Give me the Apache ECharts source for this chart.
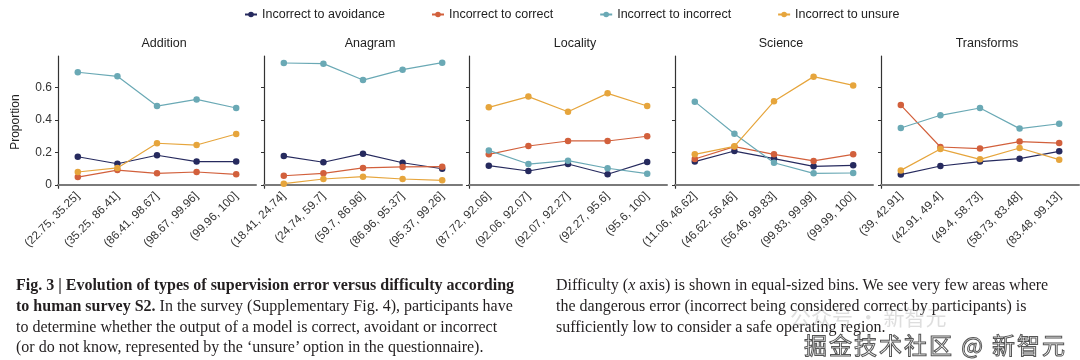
<!DOCTYPE html>
<html><head><meta charset="utf-8">
<script src="https://cdn.jsdelivr.net/npm/echarts@6/dist/echarts.min.js"></script>
<style>
html,body{margin:0;padding:0;background:#fff;}
#wrap{position:relative;width:1080px;height:360px;overflow:hidden;}
#chart{position:absolute;left:0;top:0;width:1080px;height:360px;}
.cap{position:absolute;font-family:"Liberation Serif","DejaVu Serif",serif;font-size:16px;color:#231f20;line-height:20.8px;white-space:nowrap;}
.wm1{position:absolute;left:790px;top:301px;font-family:"Noto Sans CJK SC";font-size:21px;color:rgba(160,160,160,0.35);white-space:nowrap;}
.wm2{position:absolute;left:804px;top:327px;font-family:"Noto Sans CJK SC";font-size:23px;color:#fff;-webkit-text-stroke:1px #555;white-space:nowrap;letter-spacing:2px;}
</style></head>
<body><div id="wrap"><div id="chart"></div>
<div class="cap" style="left:16px;top:275px;"><b>Fig. 3 | Evolution of types of supervision error versus difficulty according</b><br><b>to human survey S2.</b> In the survey (Supplementary Fig. 4), participants have<br>to determine whether the output of a model is correct, avoidant or incorrect<br>(or do not know, represented by the ‘unsure’ option in the questionnaire).</div>
<div class="cap" style="left:556px;top:275px;">Difficulty (<i>x</i> axis) is shown in equal-sized bins. We see very few areas where<br>the dangerous error (incorrect being considered correct by participants) is<br>sufficiently low to consider a safe operating region.</div>
<div class="wm1">公众号 · 新智元</div>
<div class="wm2">掘金技术社区 @ 新智元</div>
</div>
<script>
const panels = ["Addition", "Anagram", "Locality", "Science", "Transforms"];
const seriesNames = ["Incorrect to avoidance", "Incorrect to correct", "Incorrect to incorrect", "Incorrect to unsure"];
const colors = ["#262a5e", "#d2603c", "#6aa9b5", "#e6a53c"];
const yTicks = [0, 0.2, 0.4, 0.6];

const catAddition = ["(22.75, 35.25]", "(35.25, 86.41]", "(86.41, 98.67]", "(98.67, 99.96]", "(99.96, 100]"];
const catAnagram = ["(18.41, 24.74]", "(24.74, 59.7]", "(59.7, 86.96]", "(86.96, 95.37]", "(95.37, 99.26]"];
const catLocality = ["(87.72, 92.06]", "(92.06, 92.07]", "(92.07, 92.27]", "(92.27, 95.6]", "(95.6, 100]"];
const catScience = ["(11.06, 46.62]", "(46.62, 56.46]", "(56.46, 99.83]", "(99.83, 99.99]", "(99.99, 100]"];
const catTransforms = ["(39, 42.91]", "(42.91, 49.4]", "(49.4, 58.73]", "(58.73, 83.48]", "(83.48, 99.13]"];

// order: avoidance, correct, incorrect, unsure
const additionAvoidance = [0.174, 0.131, 0.183, 0.144, 0.144];
const additionCorrect = [0.049, 0.092, 0.072, 0.080, 0.066];
const additionIncorrect = [0.694, 0.669, 0.486, 0.527, 0.474];
const additionUnsure = [0.080, 0.105, 0.257, 0.246, 0.314];

const anagramAvoidance = [0.178, 0.140, 0.193, 0.137, 0.100];
const anagramCorrect = [0.057, 0.072, 0.105, 0.111, 0.113];
const anagramIncorrect = [0.751, 0.747, 0.646, 0.710, 0.753];
const anagramUnsure = [0.008, 0.037, 0.051, 0.037, 0.029];

const localityAvoidance = [0.119, 0.086, 0.129, 0.066, 0.142];
const localityCorrect = [0.189, 0.240, 0.271, 0.271, 0.300];
const localityIncorrect = [0.213, 0.129, 0.150, 0.103, 0.070];
const localityUnsure = [0.478, 0.544, 0.451, 0.564, 0.486];

const scienceAvoidance = [0.144, 0.209, 0.162, 0.115, 0.121];
const scienceCorrect = [0.160, 0.236, 0.189, 0.148, 0.189];
const scienceIncorrect = [0.513, 0.316, 0.137, 0.072, 0.074];
const scienceUnsure = [0.189, 0.238, 0.515, 0.667, 0.613];

const transformsAvoidance = [0.064, 0.117, 0.144, 0.162, 0.207];
const transformsCorrect = [0.492, 0.234, 0.224, 0.267, 0.258];
const transformsIncorrect = [0.351, 0.429, 0.474, 0.347, 0.377];
const transformsUnsure = [0.090, 0.221, 0.158, 0.228, 0.156];

const categories = [catAddition, catAnagram, catLocality, catScience, catTransforms];
const panelData = [
  [additionAvoidance, additionCorrect, additionIncorrect, additionUnsure],
  [anagramAvoidance, anagramCorrect, anagramIncorrect, anagramUnsure],
  [localityAvoidance, localityCorrect, localityIncorrect, localityUnsure],
  [scienceAvoidance, scienceCorrect, scienceIncorrect, scienceUnsure],
  [transformsAvoidance, transformsCorrect, transformsIncorrect, transformsUnsure]
];

const lefts = [58, 264, 469, 675, 881];
const gw = 198;
const font = "Liberation Sans, Arial, sans-serif";

const grid = [], xAxis = [], yAxis = [], series = [], title = [];
panels.forEach((p, i) => {
  grid.push({left: lefts[i], width: gw, top: 56, bottom: 171.75, containLabel: false});
  title.push({text: p, left: lefts[i] + gw / 2 + 2, top: 32, textAlign: 'center',
    textStyle: {fontSize: 12.5, fontWeight: 'normal', color: '#222', fontFamily: font}});
  xAxis.push({type: 'category', gridIndex: i, data: categories[i], boundaryGap: true,
    axisLine: {lineStyle: {color: '#7a7a7a', width: 2}},
    axisTick: {alignWithLabel: true, length: 4, lineStyle: {color: '#444', width: 1}},
    axisLabel: {rotate: 45, fontSize: 11.7, color: '#333', fontFamily: font, margin: 6, interval: 0}});
  yAxis.push({type: 'value', gridIndex: i, min: -0.02, max: 0.794,
    splitLine: {show: false},
    axisLine: {show: true, lineStyle: {color: '#333', width: 1.2}},
    axisTick: {show: true, length: 3, customValues: yTicks, lineStyle: {color: '#333'}},
    axisLabel: {show: i === 0, customValues: yTicks, fontSize: 12, color: '#333', fontFamily: font, margin: 6,
      formatter: v => v === 0 ? '0' : v.toFixed(1)},
    name: i === 0 ? 'Proportion' : '', nameLocation: 'middle', nameGap: 36,
    nameTextStyle: {fontSize: 12, color: '#222', fontFamily: font}});
  seriesNames.forEach((s, k) => {
    series.push({type: 'line', name: s, xAxisIndex: i, yAxisIndex: i, data: panelData[i][k],
      symbol: 'circle', symbolSize: 6.5, color: colors[k],
      lineStyle: {width: 1.2, color: colors[k]}, itemStyle: {color: colors[k]},
      emphasis: {disabled: true}, z: 2 + k});
  });
});

const chart = echarts.init(document.getElementById('chart'), null, {renderer: 'canvas'});
chart.setOption({
  animation: false,
  backgroundColor: 'transparent',
  title: title,
  legend: {data: seriesNames, top: 3, left: 239, itemGap: 46, itemWidth: 12, itemHeight: 7,
    textStyle: {fontSize: 12.5, color: '#222', fontFamily: font}},
  grid: grid, xAxis: xAxis, yAxis: yAxis, series: series
});
</script></body></html>
